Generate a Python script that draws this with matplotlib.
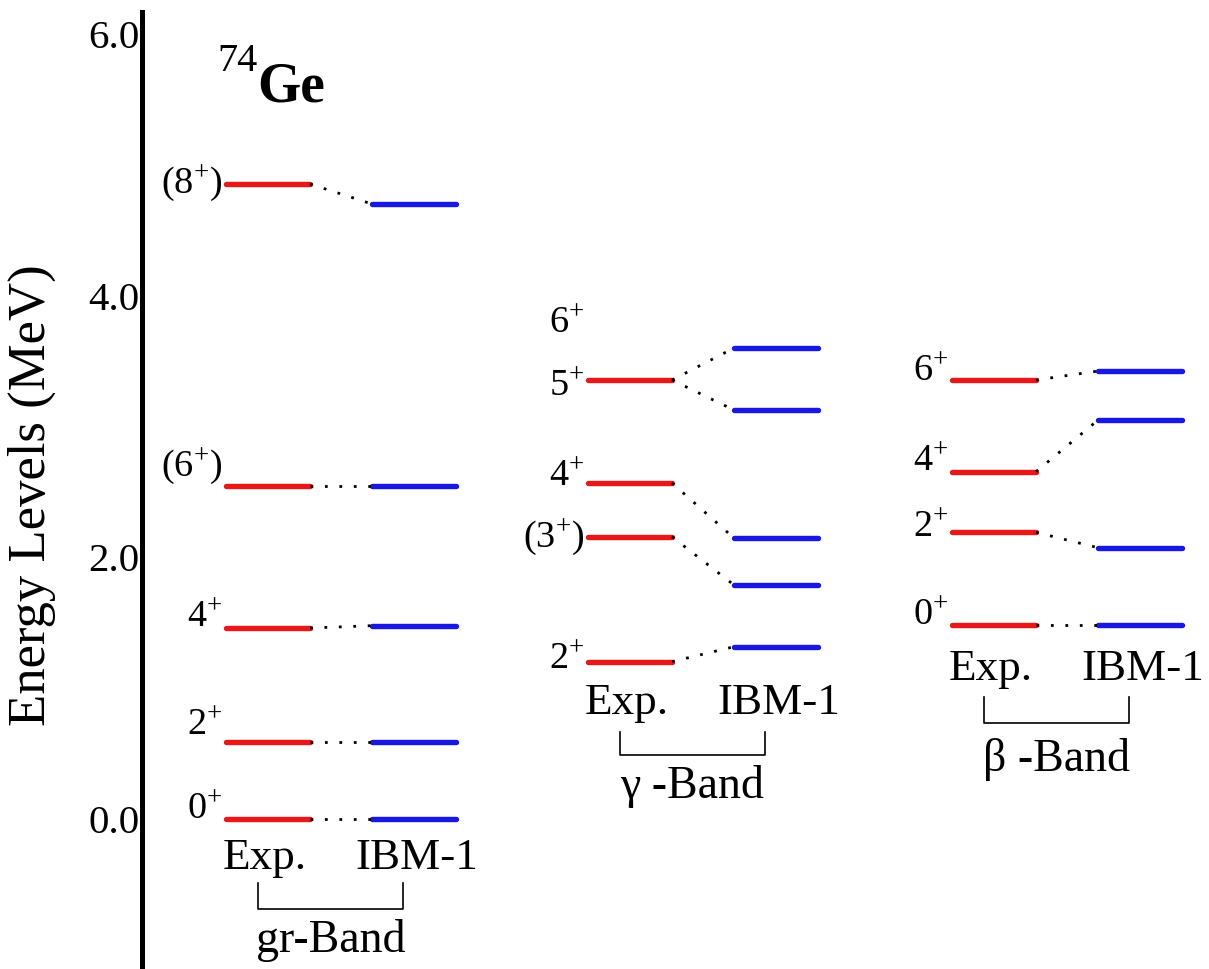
import matplotlib.pyplot as plt

plt.rcParams['font.family'] = ['Liberation Serif', 'DejaVu Serif']
plt.rcParams['mathtext.fontset'] = 'custom'
plt.rcParams['mathtext.rm'] = 'Liberation Serif'
plt.rcParams['mathtext.it'] = 'Liberation Serif:italic'
plt.rcParams['mathtext.bf'] = 'Liberation Serif:bold'

# energies in MeV
bands = ['gr-Band', 'γ -Band', 'β -Band']

gr_exp = [0.0, 0.591, 1.460, 2.548, 4.855]
gr_ibm = [0.0, 0.591, 1.478, 2.548, 4.702]
gr_labels = ['0$^{+}$', '2$^{+}$', '4$^{+}$', '(6$^{+}$)', '(8$^{+}$)']
gr_label_y = [0.0, 0.642, 1.468, 2.617, 4.786]
gr_links = [(0, 0), (1, 1), (2, 2), (3, 3), (4, 4)]

ga_exp = [1.203, 2.158, 2.569, 3.356]
ga_ibm = [1.317, 1.789, 2.148, 3.127, 3.601]
ga_labels = ['2$^{+}$', '(3$^{+}$)', '4$^{+}$', '5$^{+}$', '6$^{+}$']
ga_label_y = [1.154, 2.080, 2.553, 3.240, 3.716]
ga_links = [(0, 0), (1, 1), (2, 2), (3, 3), (3, 4)]

be_exp = [1.483, 2.192, 2.655, 3.356]
be_ibm = [1.483, 2.074, 3.050, 3.425]
be_labels = ['0$^{+}$', '2$^{+}$', '4$^{+}$', '6$^{+}$']
be_label_y = [1.483, 2.156, 2.668, 3.356]
be_links = [(0, 0), (1, 1), (2, 2), (3, 3)]

exp_all = [gr_exp, ga_exp, be_exp]
ibm_all = [gr_ibm, ga_ibm, be_ibm]
labels_all = [gr_labels, ga_labels, be_labels]
label_y_all = [gr_label_y, ga_label_y, be_label_y]
links_all = [gr_links, ga_links, be_links]

# layout (x in figure pixels)
exp_left = [226, 588, 952]
width = 84
gap = 62
text_y = [-0.30, 0.89, 1.144]
bracket_top = [-0.49, 0.668, 0.93]
bracket_bot = [-0.69, 0.49, 0.737]
name_y = [-0.93, 0.246, 0.453]

W, H = 1209, 969
fig = plt.figure(figsize=(W / 100, H / 100), dpi=100)
ax = fig.add_axes([142 / W, 0, (W - 142) / W, (H - 12) / H])
ax.set_xlim(142, W)
ax.set_ylim(-1.147, 6.17)

for k in range(3):
    x0 = exp_left[k]
    x1 = x0 + width
    x2 = x1 + gap
    x3 = x2 + width
    for e in exp_all[k]:
        ax.plot([x0, x1], [e, e], color='#e81818', lw=3.9, solid_capstyle='round')
    for e in ibm_all[k]:
        ax.plot([x2, x3], [e, e], color='#1818e0', lw=3.9, solid_capstyle='round')
    for i, j in links_all[k]:
        ax.plot([x1, x2], [exp_all[k][i], ibm_all[k][j]], color='black',
                lw=2.0, linestyle=(0, (1.0, 4.2)))
    for lab, ly in zip(labels_all[k], label_y_all[k]):
        ax.text(x0 - 4, ly, lab, ha='right', va='baseline', fontsize=27.5)
    ax.text((x0 + x1) / 2 - 3, text_y[k], 'Exp.', ha='center', va='center', fontsize=32.5)
    ax.text((x2 + x3) / 2 + 3, text_y[k], 'IBM-1', ha='center', va='center', fontsize=32.5)
    bl = x0 + 32
    br = x2 + 31
    ax.plot([bl, bl, br, br], [bracket_top[k], bracket_bot[k], bracket_bot[k], bracket_top[k]],
            color='black', lw=1.2)
    ax.text((bl + br) / 2, name_y[k], bands[k], ha='center', va='center', fontsize=33)

for s in ['top', 'right', 'bottom']:
    ax.spines[s].set_visible(False)
ax.spines['left'].set_linewidth(3.6)
ax.set_xticks([])
ax.set_yticks([0, 2, 4, 6])
ax.set_yticklabels(['0.0', '2.0', '4.0', '6.0'], fontsize=29.5)
ax.tick_params(axis='y', length=0, pad=2)

fig.text(32 / W, 1 - 495 / H, 'Energy Levels (MeV)', rotation=90,
         ha='center', va='center', fontsize=38)
fig.text(217 / W, 1 - 43 / H, '74', ha='left', va='top', fontsize=29)
fig.text(257 / W, 1 - 102 / H, 'Ge', ha='left', va='baseline', fontsize=40, fontweight='bold')

fig.savefig('out.png', dpi=100)
